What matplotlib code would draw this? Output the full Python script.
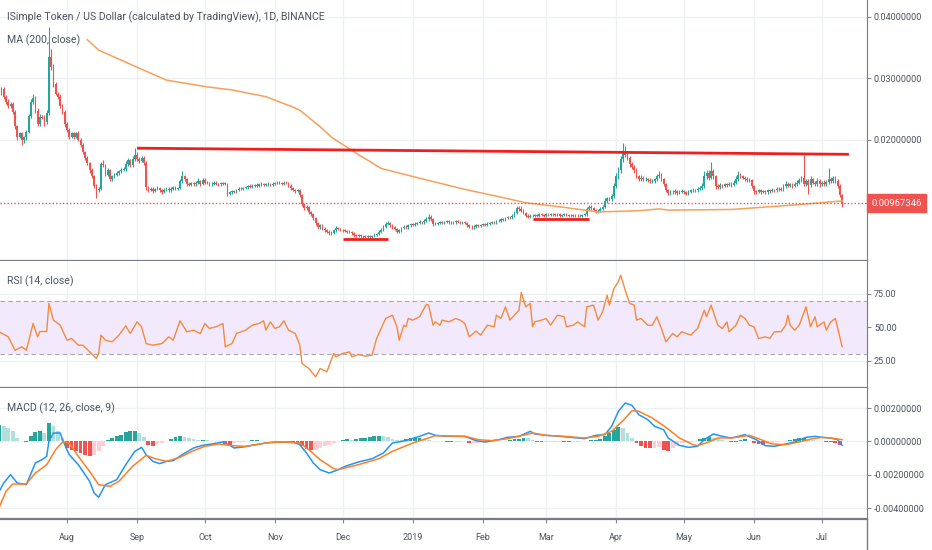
import numpy as np
import pandas as pd
import matplotlib
matplotlib.use('Agg')
import matplotlib.pyplot as plt
import matplotlib.dates as mdates
from matplotlib.ticker import FuncFormatter, FixedLocator
from matplotlib.lines import Line2D

#%% Datos (precios en unidades de 1e-4 USD, un valor por dia desde inicio)
inicio = '2018-07-02'
apertura0 = 285
cierre = [278, 282, 270, 262, 255, 258, 245, 222, 205, 210,
          200, 204, 213, 238, 262, 268, 247, 226, 237, 236,
          228, 243, 335, 318, 290, 275, 270, 255, 245, 225,
          215, 205, 210, 205, 210, 200, 192, 180, 170, 162,
          150, 140, 125, 118, 120, 160, 158, 143, 150, 136,
          140, 143, 146, 148, 150, 152, 160, 166, 158, 168,
          175, 168, 165, 170, 162, 122, 118, 120, 116, 119,
          121, 117, 115, 118, 120, 117, 119, 122, 120, 121,
          132, 140, 136, 128, 126, 129, 127, 130, 132, 128,
          134, 130, 129, 127, 128, 130, 128, 127, 129, 128,
          128, 112, 114, 116, 115, 118, 120, 119, 121, 122,
          124, 123, 125, 126, 124, 127, 128, 126, 127, 128,
          126, 128, 129, 130, 129, 128, 130, 129, 125, 121,
          118, 116, 117, 110, 95, 88, 90, 82, 78, 72,
          64, 58, 60, 55, 52, 50, 47, 48, 52, 56,
          54, 53, 52, 51, 50, 49, 47, 44, 43, 44,
          42, 43, 41, 42, 41, 43, 45, 46, 50, 53,
          58, 62, 64, 60, 57, 54, 50, 52, 56, 58,
          57, 60, 62, 61, 63, 64, 66, 65, 68, 70,
          74, 70, 62, 63, 64, 65, 64, 66, 67, 65,
          66, 65, 67, 66, 65, 66, 64, 60, 58, 57,
          58, 60, 59, 61, 62, 61, 63, 64, 66, 65,
          67, 68, 70, 69, 72, 74, 73, 76, 80, 88,
          86, 84, 80, 76, 74, 76, 75, 77, 76, 78,
          77, 76, 78, 77, 79, 78, 77, 78, 76, 77,
          78, 77, 76, 75, 77, 76, 75, 76, 77, 78,
          86, 90, 88, 85, 83, 84, 87, 90, 100, 104,
          103, 108, 125, 140, 150, 168, 182, 175, 170, 160,
          155, 150, 140, 136, 138, 135, 136, 134, 132, 133,
          135, 140, 142, 136, 128, 118, 113, 115, 114, 116,
          113, 115, 116, 114, 112, 115, 117, 118, 117, 120,
          121, 124, 140, 145, 138, 148, 140, 125, 122, 126,
          124, 127, 126, 128, 126, 130, 135, 142, 140, 138,
          136, 134, 134, 124, 116, 115, 117, 115, 116, 114,
          117, 116, 118, 117, 119, 120, 118, 124, 128, 125,
          127, 124, 128, 130, 134, 138, 128, 132, 126, 135,
          130, 128, 133, 127, 130, 128, 131, 136, 133, 137,
          132, 125, 110, 96.7346]
mecha_sup = [8, 3, 4, 2, 5, 3, 4, 3, 2, 2, 3, 2, 3, 4, 5, 6, 3, 4, 5, 3,
             4, 6, 49, 12, 6, 4, 3, 5, 3, 4, 3, 4, 3, 2, 3, 4, 2, 3, 2, 3,
             2, 3, 2, 3, 2, 4, 6, 3, 3, 2, 3, 2, 3, 2, 4, 3, 5, 4, 3, 5,
             11, 4, 3, 4, 3, 3, 2, 3, 2, 2, 3, 2, 2, 3, 2, 2, 3, 2, 3, 2,
             4, 8, 3, 2, 3, 2, 2, 3, 6, 2, 4, 3, 2, 2, 3, 2, 2, 2, 2, 2,
             3, 2, 2, 2, 2, 2, 2, 3, 2, 2, 2, 3, 2, 2, 3, 2, 3, 2, 2, 3,
             2, 3, 2, 3, 2, 2, 3, 2, 2, 2, 2, 2, 3, 3, 2, 2, 4, 2, 2, 3,
             2, 2, 3, 2, 2, 2, 2, 3, 3, 3, 2, 2, 2, 2, 2, 2, 2, 2, 2, 2,
             2, 2, 2, 2, 2, 2, 2, 2, 3, 3, 3, 4, 4, 2, 2, 2, 2, 2, 2, 3,
             2, 3, 2, 2, 2, 2, 3, 2, 3, 3, 4, 3, 2, 2, 2, 2, 2, 2, 2, 2,
             2, 2, 2, 2, 2, 2, 2, 2, 2, 2, 2, 2, 2, 2, 2, 2, 2, 2, 2, 2,
             2, 2, 2, 2, 2, 2, 2, 2, 4, 4, 4, 6, 2, 2, 2, 2, 2, 2, 2, 2,
             2, 2, 2, 2, 2, 2, 2, 2, 2, 2, 2, 2, 2, 2, 2, 2, 2, 2, 2, 3,
             4, 3, 3, 2, 2, 2, 3, 3, 4, 3, 3, 4, 5, 6, 5, 6, 13, 8, 4, 4,
             4, 3, 3, 3, 4, 3, 3, 2, 3, 3, 3, 4, 6, 3, 2, 2, 2, 3, 3, 3,
             2, 3, 3, 2, 2, 3, 2, 3, 2, 3, 3, 5, 8, 6, 5, 15, 4, 3, 3, 3,
             2, 3, 3, 3, 3, 4, 5, 6, 4, 3, 3, 3, 3, 2, 2, 2, 3, 2, 2, 2,
             2, 2, 3, 2, 3, 3, 2, 4, 4, 3, 3, 3, 3, 4, 4, 3, 37, 4, 3, 5,
             3, 3, 4, 3, 3, 4, 3, 17, 3, 3, 3, 3, 3, 2]
mecha_inf = [4, 5, 3, 4, 3, 4, 3, 4, 5, 3, 8, 6, 4, 3, 3, 4, 3, 4, 3, 3,
             5, 3, 3, 4, 4, 3, 4, 3, 3, 4, 3, 4, 3, 4, 3, 3, 4, 3, 3, 3,
             4, 3, 4, 14, 3, 3, 3, 3, 3, 4, 3, 3, 2, 3, 3, 2, 3, 3, 3, 2,
             3, 3, 3, 2, 3, 4, 3, 2, 3, 2, 2, 3, 3, 2, 2, 3, 2, 2, 2, 3,
             2, 3, 3, 3, 2, 2, 3, 2, 2, 3, 2, 2, 2, 3, 2, 2, 2, 2, 2, 2,
             2, 4, 3, 2, 2, 2, 2, 2, 2, 2, 2, 2, 2, 2, 2, 2, 2, 2, 2, 2,
             2, 2, 2, 2, 2, 2, 2, 2, 2, 3, 2, 3, 2, 3, 4, 3, 3, 4, 3, 3,
             3, 3, 3, 3, 2, 3, 2, 2, 2, 2, 2, 2, 2, 2, 2, 2, 2, 3, 2, 2,
             2, 2, 3, 2, 2, 2, 2, 2, 2, 2, 2, 2, 2, 3, 2, 2, 3, 2, 2, 2,
             2, 2, 2, 2, 2, 2, 2, 2, 2, 2, 2, 3, 3, 2, 2, 2, 2, 2, 2, 2,
             2, 2, 2, 2, 2, 2, 2, 3, 2, 2, 2, 2, 2, 2, 2, 2, 2, 2, 2, 2,
             2, 2, 2, 2, 2, 2, 2, 2, 2, 2, 2, 2, 2, 3, 2, 2, 2, 2, 2, 2,
             2, 2, 2, 2, 2, 2, 2, 2, 2, 2, 2, 2, 2, 2, 2, 2, 2, 2, 2, 2,
             2, 2, 3, 2, 2, 2, 2, 2, 2, 3, 3, 3, 3, 4, 4, 4, 4, 4, 4, 4,
             3, 4, 3, 3, 3, 3, 3, 3, 3, 2, 3, 3, 3, 3, 4, 4, 3, 3, 2, 3,
             3, 2, 2, 3, 3, 2, 2, 2, 3, 2, 2, 3, 3, 4, 4, 3, 4, 5, 3, 3,
             3, 2, 3, 2, 3, 2, 3, 3, 3, 3, 3, 3, 3, 3, 4, 3, 2, 3, 2, 3,
             2, 3, 2, 2, 2, 3, 2, 2, 3, 3, 3, 3, 2, 3, 3, 3, 3, 3, 14, 3,
             3, 3, 3, 4, 3, 3, 3, 3, 3, 3, 3, 4, 4, 6]

# MA 200 (dia, valor 1e-4)
ma_dia = [39, 44, 61, 74, 92, 103, 118, 130, 133, 142, 147, 157, 169, 185,
          207, 221, 233, 251, 265, 283, 292, 296, 324, 339, 354, 373]
ma_val = [363, 346, 318, 297, 286, 281, 270, 253, 248, 221, 204, 180, 153, 138,
          118, 107, 97, 89, 82, 84, 87, 85, 86, 90, 94, 100]

# RSI 14
rsi_dia = [0, 4, 7, 10, 12, 15, 17, 18, 21, 22, 24, 27, 30, 32, 35, 37, 40, 43, 44, 45,
           47, 50, 53, 56, 58, 61, 63, 65, 68, 72, 75, 77, 80, 83, 86, 89, 91, 93, 96, 99,
           100, 103, 105, 109, 112, 115, 117, 118, 120, 122, 124, 126, 128, 131, 133, 134, 137, 140, 142, 145,
           148, 149, 152, 155, 156, 159, 162, 165, 167, 168, 171, 174, 176, 177, 179, 180, 181, 183, 186, 189,
           190, 192, 193, 195, 196, 199, 202, 204, 206, 208, 211, 213, 216, 219, 220, 222, 224, 226, 228, 230,
           231, 233, 235, 236, 237, 240, 242, 244, 247, 250, 251, 254, 256, 259, 260, 263, 265, 267, 269, 270,
           272, 274, 275, 277, 279, 281, 282, 284, 287, 289, 291, 293, 295, 298, 300, 302, 304, 306, 309, 312,
           313, 315, 318, 320, 322, 323, 326, 328, 330, 332, 334, 336, 339, 341, 343, 346, 348, 349, 350, 352,
           354, 357, 359, 361, 362, 365, 366, 368, 369, 370, 373]
rsi_val = [46.8, 43, 33, 35.6, 33, 53, 43, 47, 47, 68, 55.5, 51.7, 40.5, 41.8, 36.8, 36.8, 31.8, 26.9, 30.6, 44.3,
           40.5, 39.3, 44.3, 51.2, 45.5, 54.2, 50.5, 38, 36.8, 38, 43, 40.5, 55, 46.8, 48, 45.5, 53, 49.3, 50.5, 53,
           35.6, 38, 45.5, 48, 51.7, 53, 55, 48, 54.2, 49.3, 50.5, 55, 48, 45.5, 36.8, 23.1, 19.4, 13.2, 19.4, 16.9,
           30.6, 28.1, 30.6, 31.8, 28.1, 29.9, 28.6, 29.4, 41.8, 45.5, 56.7, 59.2, 50.5, 40.5, 51.7, 50.5, 56.7, 55.5, 58, 67.2,
           66.7, 51.7, 54.2, 51.7, 55.5, 54.2, 56.7, 55.5, 53, 43, 47.3, 44.3, 51.7, 50.5, 59.2, 56.7, 65.4, 55.5, 59.2, 62.9,
           76.1, 65.4, 67.9, 50.5, 54.2, 55.5, 56.7, 51.7, 59.2, 58, 50.5, 51.7, 54.2, 50.5, 65.4, 66.7, 55.5, 61.7, 74.1, 66.7,
           79.1, 84.1, 89.1, 77.9, 67.9, 66.7, 55.5, 56.7, 51.7, 51.7, 58, 49.3, 39.3, 45.5, 43, 46.8, 45.5, 44.3, 49.3, 62.9,
           58, 66.7, 51.7, 49.3, 54.2, 46.8, 51.7, 59.2, 56.7, 51.7, 50.5, 41.8, 43, 41.8, 46.8, 46.8, 51.7, 59.2, 51.7, 48,
           51.7, 65.4, 50.5, 58, 50.5, 54.2, 48, 54.2, 55.5, 56.7, 35.6]

# MACD (12, 26, 9) en unidades de 1e-5
macd_dia = [0, 2, 5, 8, 12, 16, 19, 21, 22, 24, 27, 28, 31, 35, 40, 42, 44, 47, 52, 56,
            60, 63, 65, 68, 71, 74, 77, 81, 86, 90, 94, 99, 102, 104, 108, 112, 118, 122, 130, 133,
            136, 139, 142, 146, 149, 153, 159, 165, 170, 174, 180, 186, 190, 193, 198, 206, 211, 215, 221, 225,
            230, 235, 237, 242, 248, 253, 259, 264, 268, 271, 274, 277, 280, 283, 287, 290, 294, 296, 301, 305,
            309, 312, 316, 320, 324, 330, 335, 339, 343, 348, 352, 357, 361, 364, 368, 371, 373]
macd_val = [-300, -250, -200, -250, -260, -130, -110, -90, 0, 50, 50, 10, -80, -140, -240, -310, -336, -260, -230, -140,
            -60, -36, -80, -120, -134, -120, -116, -80, -40, -24, -16, -4, -24, -40, -34, -24, -10, -4, -4, -20,
            -70, -130, -170, -190, -176, -150, -124, -104, -70, -10, 4, 30, 50, 36, 30, 30, 4, -4, 10, 24,
            30, 60, 44, 36, 30, 24, 16, 36, 40, 90, 180, 230, 216, 160, 130, 90, 70, 20, -24, -36,
            -30, 10, 44, 30, 20, 40, 10, -26, -30, -16, -4, 24, 30, 24, 20, 10, -24]
senal_dia = [0, 3, 6, 12, 16, 21, 25, 28, 31, 35, 40, 44, 49, 53, 59, 65, 69, 74, 80, 86,
             91, 97, 103, 109, 118, 125, 133, 137, 142, 148, 150, 159, 168, 174, 183, 189, 193, 206, 212, 218,
             225, 233, 236, 242, 250, 259, 265, 271, 276, 280, 283, 289, 295, 301, 307, 309, 314, 318, 324, 332,
             336, 342, 348, 354, 360, 364, 368, 373]
senal_val = [-396, -300, -256, -256, -190, -140, -50, -4, -10, -90, -180, -260, -270, -240, -150, -84, -104, -120, -96, -56,
             -30, -16, -26, -30, -10, -4, -10, -50, -110, -164, -170, -140, -104, -60, -10, 16, 34, 30, 10, 4,
             16, 40, 50, 36, 30, 20, 30, 60, 124, 184, 180, 140, 84, 20, -20, -26, -4, 20, 20, 36,
             16, -16, -20, -4, 16, 24, 20, 10]
# histograma cada 2 dias
histo = [100, 95, 80, 60, 20, 0, -5, 30, 55, 60,
         50, 110, 90, 60, 20, -40, -50, -60, -70, -80,
         -85, -80, -60, -30, 10, 20, 30, 40, 55, 60,
         65, 50, 25, -20, -25, -15, -10, 0, 15, 25,
         30, 25, 18, 12, 8, 10, 8, 4, 2, 0,
         -15, -20, -12, -6, -3, 2, 6, 6, 4, 2,
         1, 0, 0, 0, 0, -2, -10, -30, -45, -50,
         -50, -40, -30, -20, -10, 5, 10, 12, 10, 15,
         18, 22, 28, 30, 32, 30, 25, 15, 10, 8,
         12, 18, 20, 22, 15, 8, 2, 0, 0, -2,
         -3, -2, -2, 0, -10, -10, -8, -5, -3, -2,
         2, 3, 5, 8, 12, 15, 20, 18, 10, -4,
         -5, -4, -4, -3, -2, -5, -6, -4, -2, 2,
         5, 6, 8, 15, 30, 50, 70, 85, 80, 50,
         20, -10, -30, -38, -40, -38, -36, -50, -55, -40,
         -25, -12, -6, -3, 5, 15, 22, 25, 22, 12,
         8, 3, -2, -3, 8, 15, 5, -10, -18, -20,
         -15, -10, -5, 2, 4, 6, 12, 18, 20, 12,
         8, 5, 2, -3, -4, -10, -22]

# lineas dibujadas a mano (dia inicio, dia fin, precio inicio, precio fin)
lineas = [(61, 376, 186, 176), (152, 172, 38, 38), (236, 261, 71, 71)]

titulo = 'ISimple Token / US Dollar (calculated by TradingView), 1D, BINANCE'
meses = ['Aug', 'Sep', 'Oct', 'Nov', 'Dec', '2019', 'Feb', 'Mar', 'Apr', 'May', 'Jun', 'Jul']

#%% Preparacion
plt.rcParams['font.family'] = ['Roboto', 'DejaVu Sans']
VERDE, ROJO = '#26a69a', '#ef5350'
GRIS_TXT = '#4c525e'
GRID = '#eef0f4'
T_EJE = 6.5
T_LEY = 7.6

x0 = mdates.date2num(pd.Timestamp(inicio))
fechas = pd.date_range(inicio, periods=len(cierre))
xs = mdates.date2num(fechas)
c = np.array(cierre) * 1e-4
o = np.r_[apertura0 * 1e-4, c[:-1]]
hi = np.maximum(o, c) + np.array(mecha_sup) * 1e-4
lo = np.minimum(o, c) - np.array(mecha_inf) * 1e-4
col = np.where(c >= o, VERDE, ROJO)

W, H = 932, 550
fig = plt.figure(figsize=(W / 100, H / 100), dpi=100)
def caja(y0, y1):
    return [0, 1 - y1 / H, 867 / W, (y1 - y0) / H]
ax = fig.add_axes(caja(0, 261))
ax_rsi = fig.add_axes(caja(261, 388), sharex=ax)
ax_macd = fig.add_axes(caja(388, 519), sharex=ax)

locm = mdates.MonthLocator()
for a in (ax, ax_rsi, ax_macd):
    a.set_facecolor('white')
    a.xaxis.set_major_locator(locm)
    a.grid(True, color=GRID, lw=1)
    a.set_axisbelow(True)
    a.yaxis.tick_right()
    a.tick_params(axis='y', length=3, color='#888888', labelsize=T_EJE, labelcolor=GRIS_TXT, pad=2)
    for s in ('top', 'left'):
        a.spines[s].set_visible(False)
    a.spines['right'].set_color('#787b86')
    a.spines['bottom'].set_color('#787b86')
    a.spines['bottom'].set_linewidth(1.6)
for a in (ax, ax_rsi):
    a.tick_params(axis='x', length=0, labelbottom=False)
ax.set_xlim(x0 + 0.35, x0 + 384)

#%% Velas
ax.vlines(xs, lo, hi, colors=col, lw=0.8)
altura = np.maximum(np.abs(c - o), 0.00006)
ax.bar(xs, altura, bottom=np.minimum(o, c), width=0.75, color=col, lw=0)
ax.plot(x0 + np.array(ma_dia), np.array(ma_val) * 1e-4, color='#f7a05a', lw=1.1)
for d0, d1, p0, p1 in lineas:
    ax.plot([x0 + d0, x0 + d1], [p0 * 1e-4, p1 * 1e-4], color='#f01e1e', lw=2, solid_capstyle='butt')
ax.axhline(c[-1], color=ROJO, lw=1, ls=(0, (1, 1.5)))
ax.set_ylim(0.0002, 0.04277)
ax.yaxis.set_major_locator(FixedLocator([0.02, 0.03, 0.04]))
ax.yaxis.set_major_formatter(FuncFormatter(lambda v, p: f'{v:.8f}'))
fig.text(871 / W, 1 - 203 / H, f'{c[-1]:.8f}', color='white', fontsize=T_EJE + 0.3, va='center', ha='left',
         bbox=dict(boxstyle='square,pad=0.45', fc=ROJO, ec=ROJO))

#%% RSI
ax_rsi.axhspan(30, 70, color='#f3e9fc', lw=0)
for nivel in (70, 30):
    ax_rsi.axhline(nivel, color='#a6a6b0', lw=0.8, ls=(0, (4, 3)))
ax_rsi.plot(x0 + np.array(rsi_dia), rsi_val, color='#f58a3c', lw=1)
ax_rsi.set_ylim(4.85, 99.6)
ax_rsi.yaxis.set_major_locator(FixedLocator([25, 50, 75]))
ax_rsi.yaxis.set_major_formatter(FuncFormatter(lambda v, p: f'{v:.2f}'))

#%% MACD
hv = np.array(histo) * 1e-5
hcol = []
prev = 0
for h in hv:
    if h >= 0:
        hcol.append(VERDE if h >= prev else '#b2dfdb')
    else:
        hcol.append(ROJO if h < prev else '#ffcdd2')
    prev = h
ax_macd.bar(x0 + np.arange(0, 2 * len(hv), 2), hv, width=1.7, color=hcol, lw=0)
ax_macd.plot(x0 + np.array(macd_dia), np.array(macd_val) * 1e-5, color='#2196f3', lw=1.1)
ax_macd.plot(x0 + np.array(senal_dia), np.array(senal_val) * 1e-5, color='#ff7f24', lw=1.1)
ax_macd.set_ylim(-0.00466, 0.0032)
ax_macd.yaxis.set_major_locator(FixedLocator([0.002, 0.0, -0.002, -0.004]))
ax_macd.yaxis.set_major_formatter(FuncFormatter(lambda v, p: f'{v:.8f}'))
ax_macd.tick_params(axis='x', length=3, color='#888888', labelsize=T_EJE, labelcolor=GRIS_TXT, pad=7)

def etiqueta_mes(v, p):
    m = mdates.num2date(v).month
    return meses[(m - 8) % 12]
ax_macd.xaxis.set_major_formatter(FuncFormatter(etiqueta_mes))

#%% Textos y bordes
fig.text(7 / W, 1 - 17 / H, titulo, color=GRIS_TXT, fontsize=T_LEY, va='center')
fig.text(7 / W, 1 - 40 / H, 'MA (200, close)', color=GRIS_TXT, fontsize=T_LEY, va='center')
fig.text(7 / W, 1 - 281 / H, 'RSI (14, close)', color=GRIS_TXT, fontsize=T_LEY, va='center')
fig.text(7 / W, 1 - 408 / H, 'MACD (12, 26, close, 9)', color=GRIS_TXT, fontsize=T_LEY, va='center')
fig.add_artist(Line2D([867 / W, 867 / W], [0, 31 / H], color='#787b86', lw=1))

fig.savefig('out.png', dpi=100)
